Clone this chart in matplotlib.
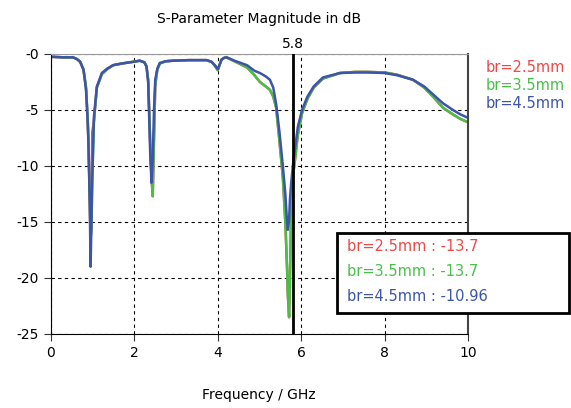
import numpy as np
import matplotlib
matplotlib.use("Agg")
import matplotlib.pyplot as plt
from matplotlib.patches import Rectangle

# frequency grid (GHz) shared by all three curves
freq = [0.0, 0.3, 0.53, 0.62, 0.70, 0.78, 0.84, 0.88, 0.90, 0.93, 0.95, 0.97,
        0.99, 1.03, 1.10, 1.22, 1.35, 1.49, 1.70, 1.97, 2.13, 2.24, 2.29, 2.33,
        2.35, 2.38, 2.41, 2.44, 2.47, 2.50, 2.55, 2.61, 2.75, 2.93, 3.3, 3.73,
        3.85, 3.93, 4.0, 4.05, 4.09, 4.15, 4.21, 4.4, 4.7, 4.88, 5.01, 5.15,
        5.25, 5.33, 5.40, 5.48, 5.56, 5.62, 5.66, 5.68, 5.71, 5.73, 5.76, 5.80,
        5.85, 5.92, 6.02, 6.15, 6.3, 6.52, 6.93, 7.3, 7.6, 8.0, 8.3, 8.68,
        8.95, 9.16, 9.4, 9.64, 9.82, 10.0]

s11_45 = [-0.25, -0.3, -0.3, -0.45, -0.7, -1.4, -3.2, -6.0, -8.3, -13.5, -19.0, -15.0,
          -11.2, -5.6, -2.9, -1.7, -1.3, -1.0, -0.85, -0.7, -0.6, -0.75, -1.1, -2.5,
          -5.0, -9.0, -11.5, -9.5, -5.0, -2.3, -1.3, -0.8, -0.65, -0.6, -0.55, -0.55,
          -0.7, -1.0, -1.35, -0.9, -0.5, -0.35, -0.3, -0.6, -1.0, -1.5, -1.7, -2.0,
          -2.3, -3.0, -4.5, -7.0, -10.0, -12.5, -15.0, -15.7, -14.8, -13.0, -11.5, -10.0,
          -8.5, -6.5, -5.0, -3.8, -2.9, -2.1, -1.7, -1.65, -1.65, -1.7, -1.9, -2.3,
          -2.9, -3.6, -4.4, -5.0, -5.4, -5.7]

s11_35 = [-0.25, -0.3, -0.3, -0.45, -0.7, -1.4, -3.0, -5.8, -8.0, -13.0, -16.5, -15.5,
          -11.0, -6.0, -3.0, -1.8, -1.35, -1.0, -0.85, -0.7, -0.6, -0.75, -1.1, -2.3,
          -4.5, -8.0, -11.0, -12.7, -7.5, -2.8, -1.4, -0.85, -0.65, -0.6, -0.55, -0.55,
          -0.7, -1.05, -1.45, -0.9, -0.5, -0.35, -0.3, -0.65, -1.2, -1.9, -2.5, -2.9,
          -3.2, -3.8, -4.8, -7.8, -11.0, -15.0, -19.0, -21.5, -23.5, -20.0, -14.0, -11.0,
          -9.5, -7.2, -5.3, -4.0, -3.0, -2.2, -1.7, -1.6, -1.6, -1.65, -1.85, -2.3,
          -3.0, -3.8, -4.8, -5.4, -5.8, -6.1]

# br=2.5mm lies almost entirely under the other two traces
s11_25 = [-0.25, -0.3, -0.3, -0.45, -0.7, -1.4, -3.0, -5.8, -8.0, -13.0, -16.5, -15.5,
          -7.0, -6.0, -3.0, -1.8, -1.35, -1.0, -0.85, -0.7, -0.6, -0.75, -1.1, -2.3,
          -4.5, -8.0, -11.0, -12.7, -7.5, -2.8, -1.4, -0.85, -0.65, -0.6, -0.55, -0.55,
          -0.7, -1.05, -1.45, -0.9, -0.5, -0.35, -0.3, -0.65, -1.2, -1.9, -2.5, -2.9,
          -3.2, -3.8, -4.8, -7.8, -11.0, -15.0, -19.0, -21.5, -23.5, -20.0, -14.0, -11.0,
          -9.5, -7.2, -5.3, -4.0, -3.0, -2.2, -1.7, -1.6, -1.6, -1.65, -1.85, -2.3,
          -3.0, -3.8, -4.8, -5.4, -5.8, -6.1]

labels = ['br=2.5mm', 'br=3.5mm', 'br=4.5mm']
colors = ['#ee4848', '#48c048', '#3c55aa']
marker_freq = 5.8
marker_vals = ['-13.7', '-13.7', '-10.96']

plt.rcParams['font.family'] = 'DejaVu Sans'

fig = plt.figure(figsize=(5.71, 4.08), dpi=100)
ax = fig.add_axes([0.0893, 0.1814, 0.7303, 0.6863])

for vals, col in zip([s11_25, s11_35, s11_45], colors):
    ax.plot(freq, vals, color=col, lw=1.8, solid_joinstyle='round')

ax.axvline(marker_freq, color='black', lw=2.0, zorder=5)
ax.annotate(f'{marker_freq}', xy=(marker_freq, 0), xytext=(0, 2),
            textcoords='offset points', ha='center', va='bottom', fontsize=10)

ax.set_xlim(0, 10)
ax.set_ylim(-25, 0)
ax.set_xticks([0, 2, 4, 6, 8, 10])
ax.set_yticks([0, -5, -10, -15, -20, -25])
ax.set_yticklabels(['-0', '-5', '-10', '-15', '-20', '-25'])
ax.tick_params(labelsize=10, length=5, width=0.8, color='#333333')
ax.grid(True, color='black', lw=0.8, linestyle=(0, (3, 3)))

ax.spines['left'].set_color('black')
ax.spines['bottom'].set_color('black')
ax.spines['top'].set_color('#999999')
ax.spines['right'].set_color('#444444')
ax.spines['right'].set_linewidth(1.5)

fig.text(0.454, 0.954, 'S-Parameter Magnitude in dB', ha='center', va='center', fontsize=10)
fig.text(0.454, 0.032, 'Frequency / GHz', ha='center', va='center', fontsize=10)

# curve legend at the right
for i, (lab, col) in enumerate(zip(labels, colors)):
    fig.text(0.851, 0.835 - i * 0.044, lab, color=col, ha='left', va='center', fontsize=10.5)

# marker value box
fig.add_artist(Rectangle((0.590, 0.233), 0.406, 0.196, transform=fig.transFigure,
                         facecolor='white', edgecolor='black', lw=2, zorder=10))
for i, (lab, col, v) in enumerate(zip(labels, colors, marker_vals)):
    fig.text(0.608, 0.395 - i * 0.061, f'{lab} : {v}', color=col, ha='left', va='center',
             fontsize=10.5, zorder=11)

fig.savefig('out.png', dpi=100)
